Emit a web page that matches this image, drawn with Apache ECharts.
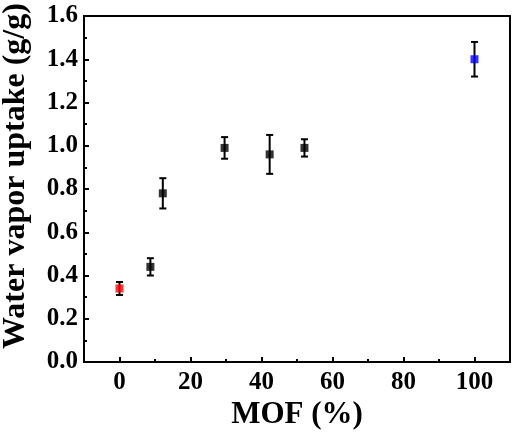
<!DOCTYPE html>
<html>
<head>
<meta charset="utf-8">
<script src="https://cdn.jsdelivr.net/npm/echarts@6/dist/echarts.min.js"></script>
<style>html,body{margin:0;padding:0;background:#fff}#c{width:513px;height:433px}</style>
</head>
<body>
<div id="c"></div>
<script>
// Data
var pureX = [0];
var pureY = [0.34];
var pureErr = [0.03];
var compX = [8.7, 12.2, 29.6, 42.3, 52.1];
var compY = [0.44, 0.78, 0.99, 0.96, 0.99];
var compErr = [0.04, 0.07, 0.05, 0.09, 0.04];
var mofX = [100];
var mofY = [1.40];
var mofErr = [0.08];
var xMajorTicks = [0, 20, 40, 60, 80, 100];
var xMinorTicks = [10, 30, 50, 70, 90];

var FONT = "'Liberation Serif','Times New Roman',serif";

function pts(xs, ys) { return xs.map(function (x, i) { return [x, ys[i]]; }); }
function errs(xs, ys, es) { return xs.map(function (x, i) { return [x, ys[i] - es[i], ys[i] + es[i]]; }); }

var allErr = errs(pureX, pureY, pureErr).concat(errs(compX, compY, compErr)).concat(errs(mofX, mofY, mofErr));

var chart = echarts.init(document.getElementById('c'), null, { renderer: 'canvas' });
chart.setOption({
  animation: false,
  backgroundColor: '#fff',
  grid: { left: 84, right: 3, top: 16, bottom: 71, containLabel: false, outerBoundsMode: 'none',
    show: true, borderColor: '#000', borderWidth: 2, backgroundColor: 'transparent' },
  xAxis: [{
    type: 'value', min: -10, max: 110, interval: 10,
    axisLine: { show: true, onZero: false, lineStyle: { color: '#000', width: 2 } },
    axisTick: { show: true, inside: true, length: 5, lineStyle: { color: '#000', width: 2 }, customValues: xMajorTicks },
    axisLabel: { customValues: xMajorTicks, color: '#000', fontFamily: FONT, fontWeight: 'bold', fontSize: 25, margin: 8 },
    splitLine: { show: false },
    name: 'MOF (%)', nameLocation: 'middle', nameGap: 33,
    nameTextStyle: { color: '#000', fontFamily: FONT, fontWeight: 'bold', fontSize: 31 }
  }, {
    type: 'value', min: -10, max: 110, interval: 10, position: 'bottom',
    axisLine: { show: false, onZero: false },
    axisTick: { show: true, inside: true, length: 3, lineStyle: { color: '#000', width: 2 }, customValues: xMinorTicks },
    axisLabel: { show: false },
    splitLine: { show: false }
  }],
  yAxis: {
    type: 'value', min: 0, max: 1.6, interval: 0.2,
    axisLine: { show: true, onZero: false, lineStyle: { color: '#000', width: 2 } },
    axisTick: { show: true, inside: true, length: 5, lineStyle: { color: '#000', width: 2 } },
    minorTick: { show: true, splitNumber: 2, length: 3, lineStyle: { color: '#000', width: 2 } },
    axisLabel: { color: '#000', fontFamily: FONT, fontWeight: 'bold', fontSize: 25, margin: 6,
      formatter: function (v) { return v.toFixed(1); } },
    splitLine: { show: false },
    name: 'Water vapor uptake (g/g)', nameLocation: 'middle', nameGap: 52,
    nameTextStyle: { color: '#000', fontFamily: FONT, fontWeight: 'bold', fontSize: 32, padding: [0, 0, 0, 26] }
  },
  series: [{
    type: 'custom',
    data: allErr,
    z: 1,
    renderItem: function (params, api) {
      var x = api.value(0);
      var lo = api.coord([x, api.value(1)]);
      var hi = api.coord([x, api.value(2)]);
      var w = 3.5;
      var st = { stroke: '#000', lineWidth: 2 };
      return { type: 'group', children: [
        { type: 'line', shape: { x1: lo[0], y1: lo[1], x2: hi[0], y2: hi[1] }, style: st },
        { type: 'line', shape: { x1: lo[0] - w, y1: lo[1], x2: lo[0] + w, y2: lo[1] }, style: st },
        { type: 'line', shape: { x1: hi[0] - w, y1: hi[1], x2: hi[0] + w, y2: hi[1] }, style: st }
      ] };
    }
  }, {
    type: 'scatter', symbol: 'rect', symbolSize: 8, z: 3,
    itemStyle: { color: '#ff0000' }, data: pts(pureX, pureY)
  }, {
    type: 'scatter', symbol: 'rect', symbolSize: 8, z: 3,
    itemStyle: { color: '#000000' }, data: pts(compX, compY)
  }, {
    type: 'scatter', symbol: 'rect', symbolSize: 8, z: 3,
    itemStyle: { color: '#0000ff' }, data: pts(mofX, mofY)
  }]
});
</script>
</body>
</html>
